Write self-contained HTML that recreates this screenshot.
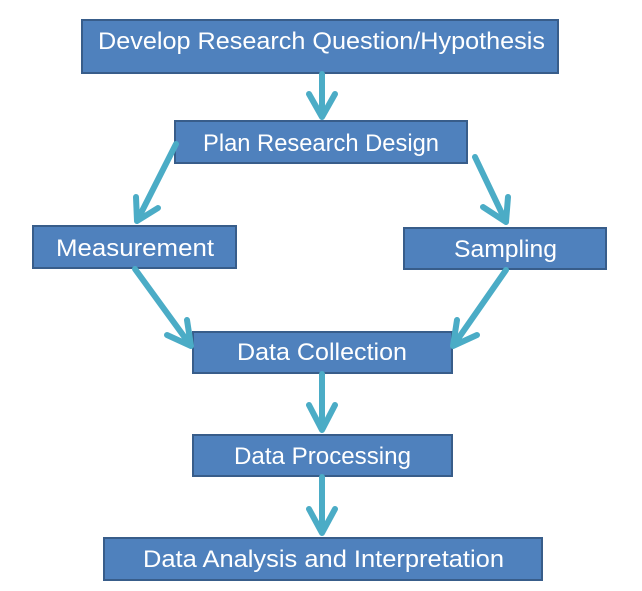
<!DOCTYPE html>
<html><head><style>
html,body{margin:0;padding:0;background:#fff;}
svg{display:block;}
text{font-family:"Liberation Sans",sans-serif;fill:#fff;font-size:24px;}
</style></head><body>
<svg width="642" height="591" viewBox="0 0 642 591">
<g fill="#4f81bd" stroke="#385d8a" stroke-width="2">
<rect x="82" y="20" width="476" height="53"/>
<rect x="175" y="121" width="292" height="42"/>
<rect x="33" y="226" width="203" height="42"/>
<rect x="404" y="228" width="202" height="41"/>
<rect x="193" y="332" width="259" height="41"/>
<rect x="193" y="435" width="259" height="41"/>
<rect x="104" y="538" width="438" height="42"/>
</g>
<g stroke="#4bacc6" stroke-width="6" fill="none" stroke-linecap="round" stroke-linejoin="round">
<path d="M322 74 V117 M309 94 L322 117 L335 94"/>
<path d="M176 144 L137 221 M136 197 L137 221 L158 208"/>
<path d="M475 157 L506 222 M483 207 L506 222 L508 197"/>
<path d="M135 269 L191 346 M187 320 L191 346 L167 335"/>
<path d="M506 270 L453 346 M457 320 L453 346 L477 335"/>
<path d="M322 374 V430 M309 405 L322 430 L335 405"/>
<path d="M322 477 V533 M309 509 L322 533 L335 509"/>
</g>
<text x="98" y="49" textLength="447" lengthAdjust="spacingAndGlyphs" font-size="25">Develop Research Question/Hypothesis</text>
<text x="203" y="151" textLength="236" lengthAdjust="spacingAndGlyphs">Plan Research Design</text>
<text x="56" y="256" textLength="158" lengthAdjust="spacingAndGlyphs">Measurement</text>
<text x="454" y="257" textLength="103" lengthAdjust="spacingAndGlyphs">Sampling</text>
<text x="237" y="360" textLength="170" lengthAdjust="spacingAndGlyphs">Data Collection</text>
<text x="234" y="464" textLength="177" lengthAdjust="spacingAndGlyphs">Data Processing</text>
<text x="143" y="567" textLength="361" lengthAdjust="spacingAndGlyphs">Data Analysis and Interpretation</text>
</svg>
</body></html>
